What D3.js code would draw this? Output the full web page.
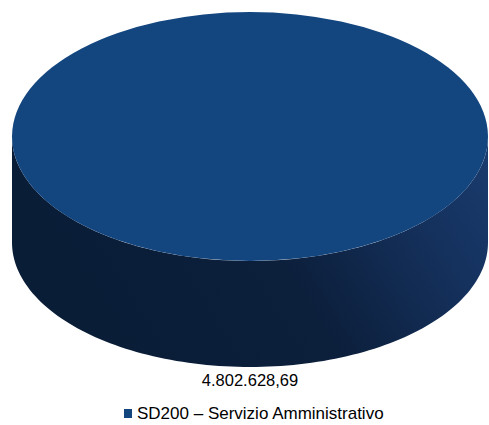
<!DOCTYPE html>
<html>
<head>
<meta charset="utf-8">
<script src="https://cdn.jsdelivr.net/npm/d3@7"></script>
<style>
  body { margin: 0; background: #fff; }
  text { font-family: "Liberation Sans", Arial, sans-serif; fill: #000; }
</style>
</head>
<body>
<svg width="489" height="425"></svg>
<script>
const categories = ["SD200 – Servizio Amministrativo"];
const values = [4802628.69];
const labels = ["4.802.628,69"];
const colors = ["#13457f"];

const svg = d3.select("svg");
const cx = 250, cy = 136.5;
const rx = 238, ry = 124.5;
const depth = 106;

const pie = d3.pie().sort(null).value(d => d)(values);

const defs = svg.append("defs");
const grad = defs.append("linearGradient")
  .attr("id", "side")
  .attr("x1", "0%").attr("y1", "30%")
  .attr("x2", "100%").attr("y2", "0%");
grad.append("stop").attr("offset", "0%").attr("stop-color", "#0a1d37");
grad.append("stop").attr("offset", "45%").attr("stop-color", "#0c1f3b");
grad.append("stop").attr("offset", "80%").attr("stop-color", "#15325f");
grad.append("stop").attr("offset", "100%").attr("stop-color", "#1a3c6f");

// point on ellipse for pie angle (0 = top, clockwise)
const pt = (a, dy) => [cx + rx * Math.sin(a), cy - ry * Math.cos(a) + dy];

pie.forEach((d, i) => {
  // front side: visible angles between PI/2 and 3PI/2
  const a0 = Math.max(d.startAngle, Math.PI / 2);
  const a1 = Math.min(d.endAngle, 3 * Math.PI / 2);
  if (a1 > a0) {
    const steps = d3.range(0, 121).map(k => a0 + (a1 - a0) * k / 120);
    const top = steps.map(a => pt(a, 0));
    const bot = steps.map(a => pt(a, depth)).reverse();
    svg.append("path")
      .attr("d", d3.line()(top.concat(bot)) + "Z")
      .attr("fill", "url(#side)");
  }
});

const arc = d3.arc().innerRadius(0).outerRadius(rx);
svg.append("g")
  .attr("transform", `translate(${cx},${cy}) scale(1,${ry / rx})`)
  .selectAll("path")
  .data(pie)
  .join("path")
  .attr("d", arc)
  .attr("fill", (d, i) => colors[i]);

// value label
svg.selectAll("text.val")
  .data(labels)
  .join("text")
  .attr("class", "val")
  .attr("x", cx)
  .attr("y", 386)
  .attr("text-anchor", "middle")
  .attr("font-size", 16.5)
  .text(d => d);

// legend
const legend = svg.append("g").attr("transform", "translate(0,419)");
legend.append("rect")
  .attr("x", 124)
  .attr("y", -10)
  .attr("width", 8)
  .attr("height", 9)
  .attr("fill", colors[0]);
legend.append("text")
  .attr("x", 137)
  .attr("y", 0)
  .attr("font-size", 17)
  .text(categories[0]);
</script>
</body>
</html>
